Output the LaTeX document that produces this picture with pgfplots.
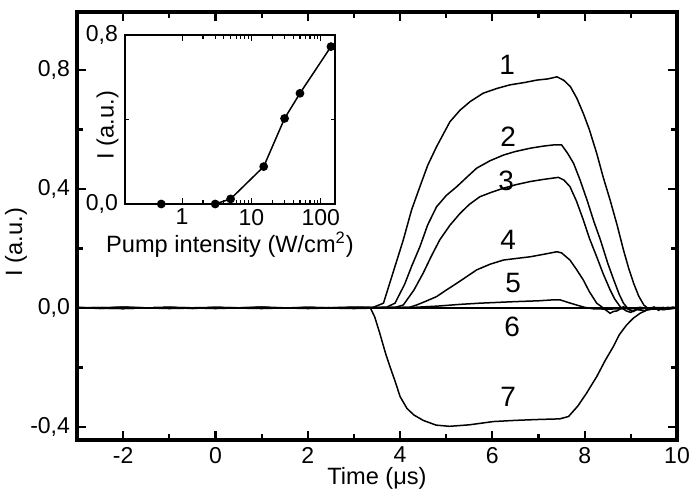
\documentclass[border=0pt]{standalone}
\usepackage{fontspec}
\setmainfont{Liberation Sans}
\usepackage{pgfplots}
\pgfplotsset{compat=1.18}
\usetikzlibrary{calc}

\begin{document}
\begin{tikzpicture}
\pgfplotsset{every axis/.append style={
  tick label style={font=\fontsize{11.5}{13}\selectfont},
  label style={font=\fontsize{11.8}{13}\selectfont},
  /pgf/number format/assume math mode=true,
  tick align=inside,
}}
\begin{axis}[
  name=main, at={(0,0)}, anchor=south west,
  scale only axis, width=300pt, height=214pt,
  xmin=-3, xmax=10, ymin=-0.444, ymax=0.995,
  xtick={-2,0,2,4,6,8,10}, minor xtick={-3,-1,1,3,5,7,9},
  ytick={-0.4,0,0.4,0.8}, minor ytick={-0.2,0.2,0.6},
  yticklabel style={/pgf/number format/.cd,fixed,fixed zerofill,precision=1,use comma},
  axis line style={line width=1.6pt},
  major tick length=4.5pt, minor tick length=2.8pt,
  every tick/.style={black,line width=1.1pt},
  xlabel={Time (μs)}, ylabel={I (a.u.)},
  xlabel style={yshift=5pt},
  ylabel style={at={(rel axis cs:-0.1017,0.4626)}, anchor=center},
  clip=true,
]
% curve 1
\addplot[black,line width=0.75pt] coordinates {
(-3,0.002)(-2.5,-0.002)(-2,0.003)(-1.5,0)(-1,0.002)(-0.5,-0.002)(0,0.002)(0.5,0)(1,0.003)(1.5,-0.001)(2,0.002)(2.5,0)(3,0.002)(3.4,0.001)
(3.64,0.016)(3.85,0.12)(4.07,0.229)(4.25,0.33)(4.43,0.408)(4.6,0.48)(4.79,0.542)(5.08,0.626)(5.3,0.665)(5.52,0.694)(5.80,0.722)(6.1,0.738)(6.38,0.750)(6.7,0.758)(6.96,0.766)(7.2,0.770)(7.40,0.777)
(7.55,0.765)(7.69,0.744)(7.83,0.705)(7.97,0.654)(8.1,0.6)(8.26,0.520)(8.4,0.44)(8.55,0.363)(8.7,0.28)(8.84,0.195)(8.95,0.135)(9.06,0.083)(9.17,0.04)(9.28,0.010)
(9.4,-0.005)(9.5,0.003)(9.6,-0.008)(9.7,0.002)(9.8,-0.004)(9.9,0.003)(10,0.001)};
% curve 2
\addplot[black,line width=0.75pt] coordinates {
(-3,-0.001)(-2,0.002)(-1,-0.002)(0,0.001)(1,-0.002)(2,0.002)(3,-0.001)(3.7,0.002)
(3.89,0.016)(4.1,0.08)(4.25,0.14)(4.43,0.206)(4.6,0.28)(4.79,0.340)(5.0,0.378)(5.23,0.408)(5.45,0.44)(5.66,0.470)(5.95,0.495)(6.24,0.514)(6.5,0.526)(6.82,0.537)(7.1,0.544)(7.32,0.548)(7.50,0.548)
(7.63,0.52)(7.76,0.486)(7.9,0.43)(8.05,0.363)(8.2,0.29)(8.34,0.229)(8.5,0.15)(8.63,0.094)(8.75,0.045)(8.84,0.016)(8.95,-0.005)(9.05,-0.012)(9.15,-0.004)(9.3,-0.01)(9.4,0.0)(9.6,-0.005)(9.8,0.002)(10,-0.002)};
% curve 3
\addplot[black,line width=0.75pt] coordinates {
(-3,0.001)(-2,-0.002)(-1,0.002)(0,-0.001)(1,0.002)(2,-0.002)(3,0.002)(3.9,0.002)
(4.07,0.010)(4.3,0.06)(4.50,0.117)(4.68,0.175)(4.86,0.229)(5.08,0.278)(5.30,0.318)(5.5,0.348)(5.73,0.374)(6.0,0.39)(6.23,0.402)(6.5,0.414)(6.82,0.425)(7.1,0.432)(7.43,0.439)
(7.55,0.43)(7.68,0.408)(7.82,0.36)(7.97,0.296)(8.1,0.235)(8.26,0.172)(8.4,0.115)(8.55,0.061)(8.65,0.03)(8.77,0.004)(8.9,-0.01)(9.0,-0.015)(9.1,-0.005)(9.3,-0.009)(9.5,0.002)(9.7,-0.006)(10,0)};
% curve 4
\addplot[black,line width=0.75pt] coordinates {
(-3,0)(-2,0.002)(-1,-0.001)(0,0.002)(1,-0.001)(2,0.001)(3,-0.002)(4.2,0.002)
(4.36,0.010)(4.55,0.022)(4.79,0.038)(5.0,0.06)(5.23,0.083)(5.45,0.106)(5.66,0.128)(5.95,0.147)(6.24,0.161)(6.5,0.166)(6.82,0.172)(7.1,0.18)(7.40,0.189)
(7.5,0.185)(7.68,0.161)(7.82,0.13)(7.97,0.094)(8.1,0.055)(8.26,0.016)(8.4,0.0)(8.5,-0.012)(8.55,-0.018)(8.62,-0.012)(8.7,-0.01)(8.84,0.004)(8.95,-0.004)(9.2,0.002)(9.5,-0.004)(10,0.001)};
% curve 5
\addplot[black,line width=0.75pt] coordinates {
(-3,0.001)(0,-0.001)(3,0.001)(4.3,0.002)(4.8,0.006)(5.3,0.012)(5.73,0.016)(6.46,0.021)(7.0,0.024)(7.3,0.027)(7.47,0.027)
(7.65,0.018)(7.82,0.010)(8.0,0.002)(8.19,-0.003)(8.5,-0.004)(9,-0.002)(9.5,0.001)(10,0)};
% curve 6
\addplot[black,line width=0.75pt] coordinates {(-3,0)(10,0)};
% curve 7
\addplot[black,line width=0.75pt] coordinates {
(-3,0)(-2,-0.002)(-1,0.002)(0,-0.002)(1,0.002)(2,-0.001)(3,0.002)(3.2,0.002)
(3.35,0.002)(3.45,-0.03)(3.56,-0.085)(3.68,-0.15)(3.78,-0.197)(3.9,-0.25)(4.0,-0.298)(4.15,-0.338)(4.30,-0.36)(4.5,-0.378)(4.78,-0.394)(5.07,-0.398)(5.5,-0.393)(6.02,-0.382)(6.5,-0.378)(7.0,-0.375)(7.46,-0.373)
(7.65,-0.365)(7.85,-0.33)(8.03,-0.289)(8.26,-0.231)(8.45,-0.175)(8.62,-0.130)(8.75,-0.09)(8.91,-0.057)(9.05,-0.035)(9.20,-0.018)(9.35,-0.007)(9.5,-0.003)(9.7,-0.005)(10,0)};
\begin{scope}[font=\fontsize{14}{16}\selectfont]
\node at (axis cs:6.32,0.817) {1};
\node at (axis cs:6.34,0.575) {2};
\node at (axis cs:6.30,0.427) {3};
\node at (axis cs:6.34,0.229) {4};
\node at (axis cs:6.45,0.084) {5};
\node at (axis cs:6.43,-0.064) {6};
\node at (axis cs:6.34,-0.30) {7};
\end{scope}
\end{axis}

\begin{axis}[
  name=inset, at={($(main.south west)+(24pt,118pt)$)}, anchor=south west,
  scale only axis, width=105pt, height=84.5pt,
  xmode=log, xmin=0.15, xmax=160, ymin=0, ymax=0.8,
  xtick={1,10,100}, xticklabels={1,10,100},
  ytick={0,0.8}, minor ytick={0.4},
  yticklabel style={/pgf/number format/.cd,fixed,fixed zerofill,precision=1,use comma},
  xticklabel style={yshift=1pt},
  axis line style={line width=1pt},
  major tick length=3pt, minor tick length=2pt,
  every tick/.style={black,line width=0.6pt},
  xlabel={Pump intensity (W/cm\textsuperscript{2})}, ylabel={I (a.u.)},
  xlabel style={yshift=3.5pt},
  ylabel style={at={(rel axis cs:-0.0833,0.467)}, anchor=center},
  clip=false,
]
\addplot[black,line width=0.75pt,mark=*,mark size=1.8pt] coordinates {
(0.5,0)(3,0)(5,0.024)(15,0.177)(30,0.405)(50,0.524)(140,0.745)};
\end{axis}

\pgfresetboundingbox
\path ($(main.south west)+(-38.5pt,-25pt)$) rectangle ($(main.north east)+(6.5pt,6pt)$);
\end{tikzpicture}
\end{document}
